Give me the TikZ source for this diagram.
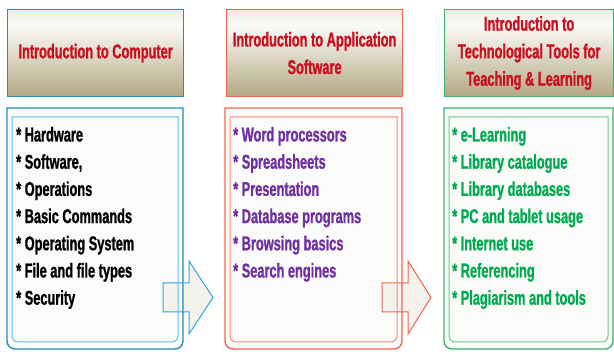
\documentclass[tikz,border=0pt]{standalone}
\usepackage{fontspec}
\setmainfont{Liberation Sans}
\newfontfamily\hdrfont[FakeStretch=0.64,FakeBold=1]{Liberation Sans}
\newfontfamily\bodyfont[FakeStretch=0.64,FakeBold=1]{Liberation Sans}
\definecolor{hB}{RGB}{181,170,134}
\definecolor{hW}{RGB}{250,250,247}
\definecolor{hT}{RGB}{236,234,226}
\definecolor{bodyfill}{RGB}{251,251,249}
\definecolor{arrowfill}{RGB}{243,242,237}
\definecolor{hdrred}{RGB}{200,16,30}
\definecolor{bOut}{RGB}{34,140,188}
\definecolor{bIn}{RGB}{96,192,232}
\definecolor{bArr}{RGB}{40,168,225}
\definecolor{rOut}{RGB}{240,100,80}
\definecolor{rIn}{RGB}{246,140,120}
\definecolor{gOut}{RGB}{60,176,110}
\definecolor{gIn}{RGB}{112,200,140}
\definecolor{purp}{RGB}{112,48,160}
\definecolor{grn}{RGB}{0,170,80}
% header background: vertical gradient drawn as thin strips (top light, bottom tan)
\newcommand\hdrbg[2]{%
 \foreach \k in {0,...,86}{%
   \pgfmathsetmacro\tt{(\k+0.5)/87}%
   \pgfmathsetmacro\pp{\tt<0.2 ? 100*(1-\tt/0.2) : 100*((\tt-0.2)/0.8)}%
   \pgfmathparse{\tt<0.2 ? 1 : 0}%
   \ifnum\pgfmathresult=1 \colorlet{stripc}{hT!\pp!hW}\else\colorlet{stripc}{hB!\pp!hW}\fi
   \fill[stripc] (#1,{9+\k}) rectangle (#2,{9+\k+1.1});
 }}
\newcommand\bodyfill[2]{\fill[bodyfill, rounded corners=8pt] (#1,128) -- (#1,349) -- (#2,349) -- (#2,128) [sharp corners] -- (#2,108) -- (#1,108) -- cycle;}
\newcommand\bodylines[4]{%
 \draw[#3, line width=1.4pt, rounded corners=8pt] (#1,128) -- (#1,349) -- (#2,349) -- (#2,128) [sharp corners] -- (#2,108) -- (#1,108) -- cycle;
 \draw[#4, line width=1pt, rounded corners=6pt] ({#1+5},128) -- ({#1+5},342) -- ({#2-5},342) -- ({#2-5},128) [sharp corners] -- ({#2-5},117) -- ({#1+5},117) -- cycle;}
\begin{document}
\begin{tikzpicture}[x=1pt,y=-1pt,
  hdr/.style={line width=1.2pt, minimum height=87pt, inner sep=0pt, anchor=north west, align=center, text=hdrred, font=\hdrfont\bfseries\fontsize{20}{27.5}\selectfont},
  item/.style={anchor=base west, inner sep=0pt, font=\bodyfont\bfseries\fontsize{20}{24}\selectfont},
  blockarrow/.style={fill=arrowfill, line width=1pt, line join=miter}]
\useasboundingbox (0,0) rectangle (614,352);
% header backgrounds
\hdrbg{7}{183}
\hdrbg{226}{402}
\hdrbg{444}{613}
% headers
\node[hdr, draw=bOut, minimum width=176pt] (h1) at (7,9) {Introduction to Computer};
\node[hdr, draw=rOut, minimum width=176pt] (h2) at (226,9) {Introduction to Application\\Software};
\node[hdr, draw=gOut, minimum width=169pt] (h3) at (444,9) {Introduction to\\Technological Tools for\\Teaching \& Learning};
% box 1
\bodyfill{7}{183}
\draw[blockarrow, draw=bArr] (163,283) -- (189,283) -- (189,261) -- (213,297.5) -- (189,334) -- (189,312) -- (163,312) -- cycle;
\bodylines{7}{183}{bOut}{bIn}
% box 2
\bodyfill{225}{402}
\draw[blockarrow, draw=rOut] (382,283) -- (408,283) -- (408,261) -- (431,297.5) -- (408,334) -- (408,312) -- (382,312) -- cycle;
\bodylines{225}{402}{rOut}{rIn}
% box 3
\bodyfill{444}{613}
\bodylines{444}{613}{gOut}{gIn}
% items
\foreach [count=\i] \t in {Hardware,{Software,},Operations,Basic Commands,Operating System,File and file types,Security}
  \node[item, text=black] (a\i) at (16,{141.5+27.2*(\i-1)}) {* \t};
\foreach [count=\i] \t in {Word processors,Spreadsheets,Presentation,Database programs,Browsing basics,Search engines}
  \node[item, text=purp] (b\i) at (233,{141.5+27.2*(\i-1)}) {* \t};
\foreach [count=\i] \t in {e-Learning,Library catalogue,Library databases,PC and tablet usage,Internet use,Referencing,Plagiarism and tools}
  \node[item, text=grn] (c\i) at (452,{141.5+27.2*(\i-1)}) {* \t};
\end{tikzpicture}
\end{document}
